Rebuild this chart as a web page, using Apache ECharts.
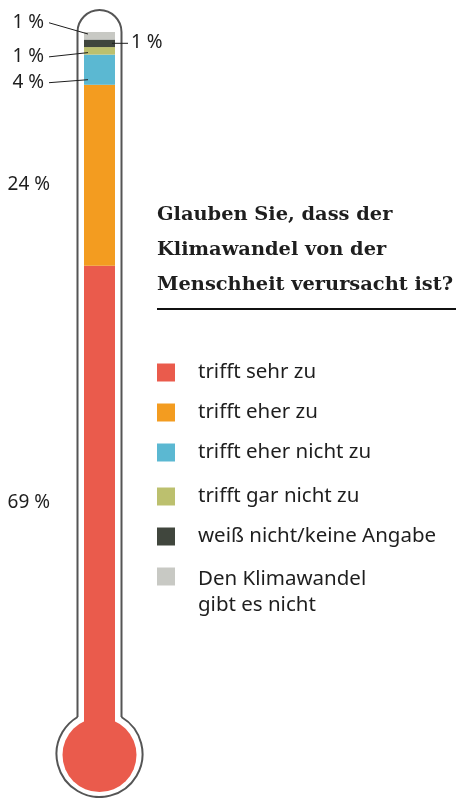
<!DOCTYPE html>
<html>
<head>
<meta charset="utf-8">
<script src="https://cdn.jsdelivr.net/npm/echarts@6/dist/echarts.min.js"></script>
<style>
html, body { margin: 0; padding: 0; background: #fff; }
#chart { width: 456px; height: 798px; }
</style>
</head>
<body>
<div id="chart"></div>
<script>
// Umfrage: Glauben Sie, dass der Klimawandel von der Menschheit verursacht ist?
var categories = ['Klimawandel'];
var answers = ['trifft sehr zu', 'trifft eher zu', 'trifft eher nicht zu', 'trifft gar nicht zu', 'weiß nicht/keine Angabe', 'Den Klimawandel gibt es nicht'];
var shares = [69, 24, 4, 1, 1, 1];
var colors = ['#ea5b4c', '#f39c20', '#5bb8d2', '#bcc06e', '#40463d', '#c8c9c4'];

var sans = 'Noto Sans';
var ink = '#1e1e1e';
var frame = { stroke: '#555', lineWidth: 2, fill: 'none' };
var barW = 31;

// label placement per segment (left / right of the tube); lead = draw a leader line
var labelPos = [
    { position: 'left', distance: 34, offset: [0, -23] },
    { position: 'left', distance: 34, offset: [0, 9] },
    { position: 'left', distance: 40, offset: [0, 13], lead: true },
    { position: 'left', distance: 40, offset: [0, 6], lead: true },
    { position: 'right', distance: 16, offset: [0, -1], lead: true },
    { position: 'left', distance: 40, offset: [0, -13], lead: true }
];

var myChart = echarts.init(document.getElementById('chart'));

var legendBase = {
    orient: 'vertical',
    left: 157,
    padding: 0,
    itemWidth: 18,
    itemHeight: 18,
    itemGap: 19,
    icon: 'rect',
    selectedMode: false,
    textStyle: { fontFamily: sans, fontSize: 20.5, color: ink, padding: [0, 0, 0, 18] }
};

// bulb joint angle (outline circle r=43 meets the tube walls)
var joint = Math.asin(37 / 43);

var option = {
    animation: false,
    color: colors,
    title: {
        text: 'Glauben Sie, dass der\nKlimawandel von der\nMenschheit verursacht ist?',
        left: 157,
        top: 197,
        padding: 0,
        textStyle: { fontFamily: 'DejaVu Serif', fontWeight: 'bold', fontSize: 19.4, lineHeight: 35, color: ink }
    },
    legend: [
        Object.assign({}, legendBase, { top: 362, data: answers.slice(0, 3) }),
        Object.assign({}, legendBase, { top: 486, data: answers.slice(3, 5) }),
        Object.assign({}, legendBase, {
            top: 540,
            data: answers.slice(5),
            formatter: function () { return '{e| }\n{t|Den Klimawandel}\n{t|gibt es nicht}'; },
            textStyle: {
                fontFamily: sans, fontSize: 20.5, color: ink, padding: [0, 0, 0, 18],
                rich: {
                    e: { fontFamily: sans, fontSize: 20.5, lineHeight: 32 },
                    t: { fontFamily: sans, fontSize: 20.5, lineHeight: 26, color: ink }
                }
            }
        })
    ],
    grid: { left: 84, width: barW, top: 32, bottom: 12 },
    xAxis: { type: 'category', data: categories, show: false },
    yAxis: { type: 'value', min: 0, max: 100, show: false },
    graphic: [
        // thermometer outline
        { type: 'line', z: -1, shape: { x1: 77.5, y1: 32, x2: 77.5, y2: 717 }, style: frame },
        { type: 'line', z: -1, shape: { x1: 121.5, y1: 32, x2: 121.5, y2: 717 }, style: frame },
        { type: 'arc', z: -1, shape: { cx: 99.5, cy: 32, r: 22, startAngle: Math.PI, endAngle: 2 * Math.PI, clockwise: true }, style: frame },
        { type: 'arc', z: -1, shape: { cx: 99.5, cy: 754, r: 43, startAngle: -joint, endAngle: Math.PI + joint, clockwise: true }, style: frame },
        { type: 'circle', z: -1, shape: { cx: 99.5, cy: 755, r: 37 }, style: { fill: colors[0] } },
        // rule under the question
        { type: 'line', shape: { x1: 157, y1: 309, x2: 456, y2: 309 }, style: { stroke: '#111', lineWidth: 2 } }
    ],
    series: answers.map(function (name, i) {
        return {
            name: name,
            type: 'bar',
            stack: 'total',
            barWidth: barW,
            data: [shares[i]],
            itemStyle: { color: colors[i] },
            label: {
                show: true,
                formatter: '{c} %',
                color: ink,
                fontFamily: sans,
                fontSize: 19,
                position: labelPos[i].position,
                distance: labelPos[i].distance,
                offset: labelPos[i].offset
            },
            emphasis: { disabled: true }
        };
    })
};
myChart.setOption(option);

// leader lines from the small labels into their segments
function clamp(v, a, b) { return Math.max(a, Math.min(b, v)); }
var leaders = [];
var cum = 0;
shares.forEach(function (v, i) {
    var lo = myChart.convertToPixel({ gridIndex: 0 }, [0, cum]);
    var hi = myChart.convertToPixel({ gridIndex: 0 }, [0, cum + v]);
    cum += v;
    var p = labelPos[i];
    if (!p.lead) return;
    var left = lo[0] - barW / 2, right = lo[0] + barW / 2;
    var labelY = (lo[1] + hi[1]) / 2 + p.offset[1];
    var shape;
    if (p.position === 'left') {
        shape = { x1: left - p.distance + 5, y1: labelY, x2: left + 4, y2: clamp(labelY - 3, hi[1] + 2, lo[1] - 2) };
    } else {
        var y = clamp(labelY + 1, hi[1] + 1, lo[1] - 1);
        shape = { x1: right - 3, y1: y, x2: right + p.distance - 3, y2: y };
    }
    leaders.push({ type: 'line', z: 10, shape: shape, style: { stroke: ink, lineWidth: 1 } });
});
myChart.setOption({ graphic: option.graphic.concat(leaders) });
</script>
</body>
</html>
